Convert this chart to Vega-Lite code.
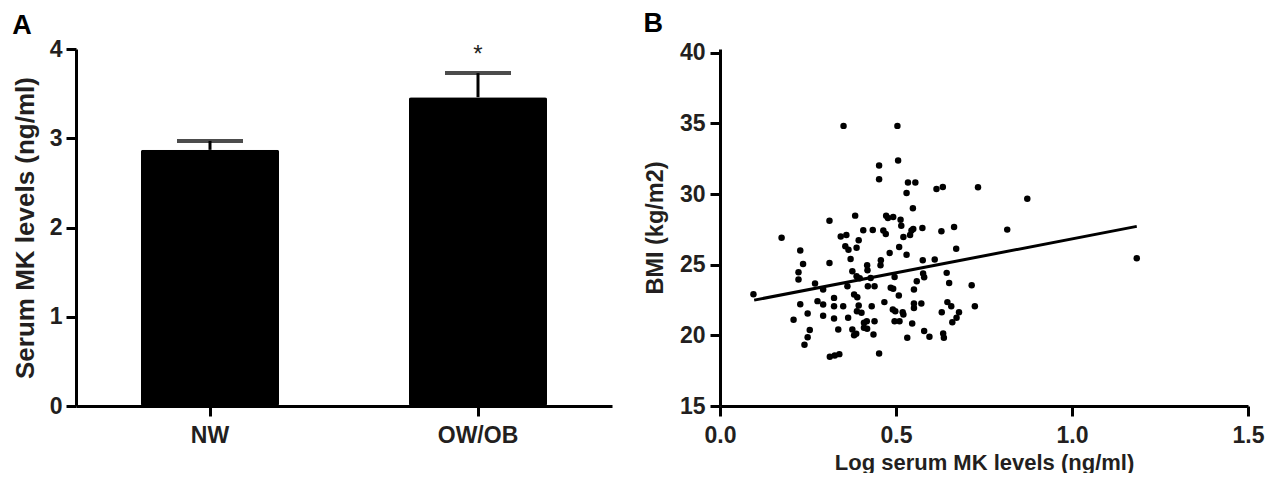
{
  "$schema": "https://vega.github.io/schema/vega-lite/v6.json",
  "background": "white",
  "padding": {"left": 12, "top": 9, "right": 5, "bottom": 0},
  "spacing": 31,
  "config": {
    "view": {"stroke": null},
    "font": "Liberation Sans",
    "axis": {
      "grid": false,
      "domainColor": "#000000",
      "domainWidth": 3,
      "tickColor": "#000000",
      "tickWidth": 3,
      "tickSize": 10,
      "labelFont": "Liberation Sans",
      "labelFontWeight": "bold",
      "labelFontSize": 23,
      "labelColor": "#231f20",
      "titleFont": "Liberation Sans",
      "titleFontWeight": "bold",
      "titleFontSize": 22,
      "titleColor": "#231f20"
    },
    "title": {"font": "Liberation Sans", "fontWeight": "bold", "fontSize": 27, "color": "#000000", "anchor": "start", "frame": "bounds"}
  },
  "datasets": {
    "bars": [
      {"group": "NW", "mean": 2.87, "upper": 2.97, "sig": ""},
      {"group": "OW/OB", "mean": 3.46, "upper": 3.73, "sig": "*"}
    ],
    "fit": [
      {"x": 0.097, "y": 22.49},
      {"x": 1.184, "y": 27.71}
    ],
    "points": [
      {"x": 0.095, "y": 22.9}, {"x": 0.175, "y": 26.9}, {"x": 0.228, "y": 26.0}, {"x": 0.223, "y": 24.46},
      {"x": 0.223, "y": 23.95}, {"x": 0.236, "y": 25.05}, {"x": 0.228, "y": 22.2}, {"x": 0.209, "y": 21.1},
      {"x": 0.249, "y": 21.55}, {"x": 0.255, "y": 20.37}, {"x": 0.249, "y": 19.87}, {"x": 0.240, "y": 19.33},
      {"x": 0.270, "y": 23.66}, {"x": 0.277, "y": 22.42}, {"x": 0.293, "y": 22.18}, {"x": 0.293, "y": 21.38},
      {"x": 0.293, "y": 23.24}, {"x": 0.311, "y": 28.1}, {"x": 0.311, "y": 25.12}, {"x": 0.324, "y": 22.65},
      {"x": 0.324, "y": 22.06}, {"x": 0.324, "y": 21.19}, {"x": 0.336, "y": 20.41}, {"x": 0.312, "y": 18.48},
      {"x": 0.326, "y": 18.58}, {"x": 0.339, "y": 18.67}, {"x": 0.351, "y": 34.82}, {"x": 0.343, "y": 27.0},
      {"x": 0.359, "y": 27.1}, {"x": 0.356, "y": 26.3}, {"x": 0.365, "y": 26.06}, {"x": 0.371, "y": 25.4},
      {"x": 0.350, "y": 22.06}, {"x": 0.362, "y": 23.47}, {"x": 0.364, "y": 21.24}, {"x": 0.376, "y": 24.53},
      {"x": 0.384, "y": 28.47}, {"x": 0.388, "y": 26.2}, {"x": 0.394, "y": 26.72}, {"x": 0.388, "y": 24.18},
      {"x": 0.397, "y": 24.04}, {"x": 0.381, "y": 22.89}, {"x": 0.390, "y": 22.7}, {"x": 0.394, "y": 22.11},
      {"x": 0.389, "y": 21.71}, {"x": 0.402, "y": 21.59}, {"x": 0.376, "y": 20.41}, {"x": 0.381, "y": 20.01},
      {"x": 0.387, "y": 20.11}, {"x": 0.409, "y": 20.89}, {"x": 0.417, "y": 21.0}, {"x": 0.409, "y": 20.53},
      {"x": 0.418, "y": 20.46}, {"x": 0.407, "y": 27.43}, {"x": 0.418, "y": 24.96}, {"x": 0.419, "y": 24.6},
      {"x": 0.420, "y": 23.47}, {"x": 0.428, "y": 24.06}, {"x": 0.434, "y": 27.45}, {"x": 0.431, "y": 22.06},
      {"x": 0.436, "y": 20.06}, {"x": 0.439, "y": 21.0}, {"x": 0.439, "y": 23.47}, {"x": 0.452, "y": 32.02},
      {"x": 0.452, "y": 31.05}, {"x": 0.452, "y": 18.72}, {"x": 0.457, "y": 25.31}, {"x": 0.456, "y": 24.96},
      {"x": 0.464, "y": 27.41}, {"x": 0.471, "y": 27.17}, {"x": 0.467, "y": 22.35}, {"x": 0.472, "y": 28.47},
      {"x": 0.477, "y": 28.3}, {"x": 0.482, "y": 25.83}, {"x": 0.492, "y": 28.37}, {"x": 0.485, "y": 23.36},
      {"x": 0.492, "y": 23.29}, {"x": 0.491, "y": 21.83}, {"x": 0.498, "y": 21.71}, {"x": 0.496, "y": 21.0},
      {"x": 0.496, "y": 24.13}, {"x": 0.504, "y": 34.82}, {"x": 0.506, "y": 32.37}, {"x": 0.509, "y": 26.25},
      {"x": 0.508, "y": 22.82}, {"x": 0.510, "y": 21.0}, {"x": 0.513, "y": 28.18}, {"x": 0.515, "y": 27.76},
      {"x": 0.519, "y": 21.64}, {"x": 0.521, "y": 26.96}, {"x": 0.521, "y": 21.47}, {"x": 0.530, "y": 30.07},
      {"x": 0.534, "y": 30.82}, {"x": 0.555, "y": 30.82}, {"x": 0.530, "y": 25.71}, {"x": 0.540, "y": 27.1},
      {"x": 0.544, "y": 27.41}, {"x": 0.549, "y": 27.52}, {"x": 0.548, "y": 29.0}, {"x": 0.532, "y": 19.83},
      {"x": 0.546, "y": 20.84}, {"x": 0.551, "y": 23.24}, {"x": 0.551, "y": 22.25}, {"x": 0.551, "y": 21.94},
      {"x": 0.559, "y": 23.83}, {"x": 0.576, "y": 25.31}, {"x": 0.575, "y": 27.6}, {"x": 0.572, "y": 22.25},
      {"x": 0.577, "y": 24.37}, {"x": 0.580, "y": 24.11}, {"x": 0.580, "y": 20.3}, {"x": 0.595, "y": 19.9},
      {"x": 0.615, "y": 30.35}, {"x": 0.610, "y": 25.36}, {"x": 0.633, "y": 30.49}, {"x": 0.733, "y": 30.47},
      {"x": 0.873, "y": 29.67}, {"x": 0.629, "y": 27.36}, {"x": 0.665, "y": 27.67}, {"x": 0.816, "y": 27.48},
      {"x": 0.671, "y": 26.12}, {"x": 0.644, "y": 24.42}, {"x": 0.651, "y": 23.71}, {"x": 0.715, "y": 23.55},
      {"x": 0.646, "y": 22.35}, {"x": 0.657, "y": 22.06}, {"x": 0.724, "y": 22.06}, {"x": 0.630, "y": 21.64},
      {"x": 0.679, "y": 21.64}, {"x": 0.672, "y": 21.24}, {"x": 0.660, "y": 20.93}, {"x": 0.634, "y": 20.13},
      {"x": 0.636, "y": 19.83}, {"x": 1.184, "y": 25.45}
    ]
  },
  "hconcat": [
    {
      "title": {"text": "A", "offset": -2},
      "width": 536,
      "height": 357,
      "data": {"name": "bars"},
      "encoding": {
        "x": {
          "field": "group", "type": "nominal", "sort": null,
          "scale": {"paddingInner": 0.485, "paddingOuter": 0.2425},
          "axis": {"title": null, "labelAngle": 0, "labelPadding": 8}
        }
      },
      "layer": [
        {
          "mark": {"type": "bar", "color": "#000000", "cornerRadius": 2},
          "encoding": {
            "y": {
              "field": "mean", "type": "quantitative",
              "scale": {"domain": [0, 4], "nice": false},
              "axis": {"values": [0, 1, 2, 3, 4], "format": "d", "title": "Serum MK levels (ng/ml)", "titleFontSize": 26, "labelPadding": 4, "titlePadding": 11}
            }
          }
        },
        {
          "mark": {"type": "rule", "color": "#000000", "strokeWidth": 3},
          "encoding": {"y": {"field": "mean", "type": "quantitative"}, "y2": {"field": "upper"}}
        },
        {
          "mark": {"type": "tick", "color": "#000000", "thickness": 4, "size": 66, "orient": "horizontal"},
          "encoding": {"y": {"field": "upper", "type": "quantitative"}}
        },
        {
          "mark": {"type": "text", "fontSize": 24, "fontWeight": "normal", "color": "#231f20", "baseline": "alphabetic", "dy": -11},
          "encoding": {"y": {"field": "upper", "type": "quantitative"}, "text": {"field": "sig"}}
        }
      ]
    },
    {
      "title": {"text": "B", "offset": 4},
      "width": 528,
      "height": 357,
      "layer": [
        {
          "data": {"name": "points"},
          "mark": {"type": "circle", "color": "#000000", "opacity": 1, "size": 42},
          "encoding": {
            "x": {
              "field": "x", "type": "quantitative",
              "scale": {"domain": [0, 1.5], "nice": false},
              "axis": {"values": [0, 0.5, 1, 1.5], "format": ".1f", "title": "Log serum MK levels (ng/ml)", "labelPadding": 8, "titlePadding": 5, "labelFlush": false}
            },
            "y": {
              "field": "y", "type": "quantitative",
              "scale": {"domain": [15, 40.26], "nice": false, "zero": false},
              "axis": {"values": [15, 20, 25, 30, 35, 40], "title": "BMI (kg/m2)", "titleFontSize": 23.5, "labelPadding": 5, "titlePadding": 12}
            }
          }
        },
        {
          "data": {"name": "fit"},
          "mark": {"type": "line", "color": "#000000", "strokeWidth": 3},
          "encoding": {
            "x": {"field": "x", "type": "quantitative"},
            "y": {"field": "y", "type": "quantitative"}
          }
        }
      ]
    }
  ]
}
